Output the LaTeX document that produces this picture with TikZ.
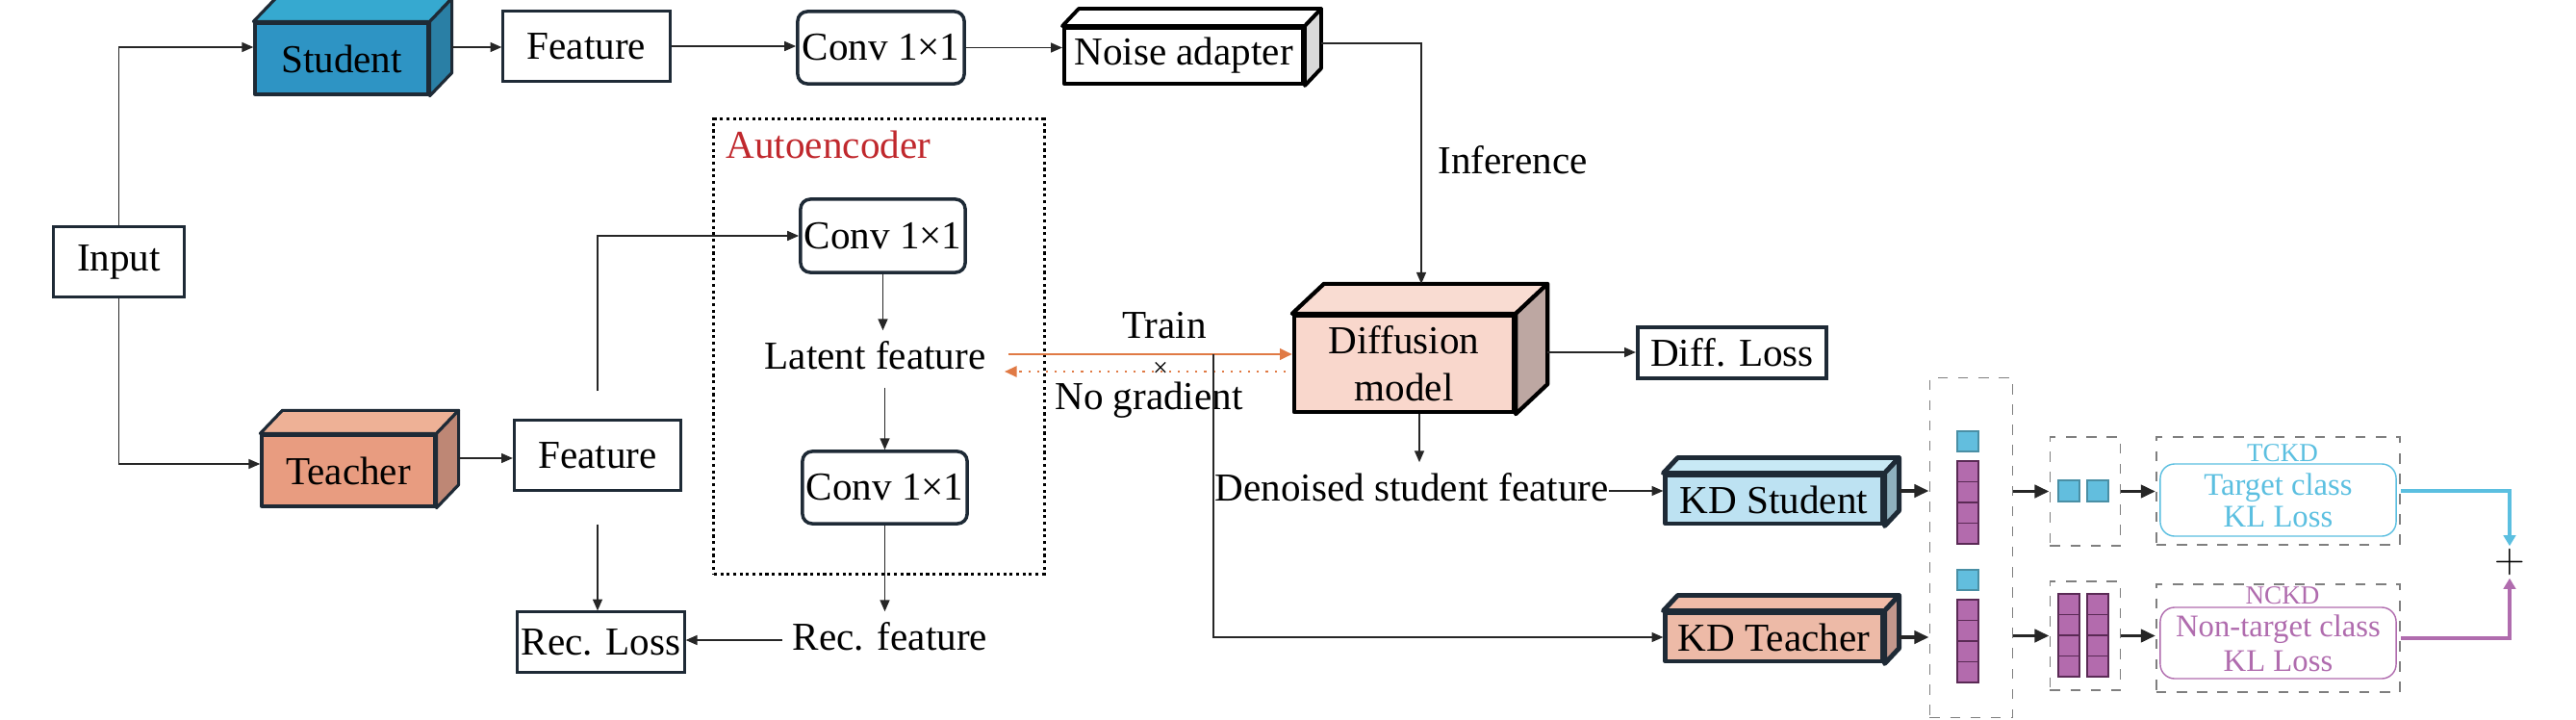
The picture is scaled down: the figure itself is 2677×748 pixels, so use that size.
\documentclass[tikz,border=0pt]{standalone}
\usepackage{fontspec}
\setmainfont{Liberation Serif}
\usetikzlibrary{arrows.meta,calc}
\definecolor{edge}{RGB}{30,42,54}
\definecolor{stufront}{RGB}{46,148,196}
\definecolor{stutop}{RGB}{54,169,208}
\definecolor{stuside}{RGB}{42,127,165}
\definecolor{teafront}{RGB}{232,156,128}
\definecolor{teatop}{RGB}{238,177,150}
\definecolor{teaside}{RGB}{190,135,117}
\definecolor{difffront}{RGB}{249,215,204}
\definecolor{difftop}{RGB}{249,220,210}
\definecolor{diffside}{RGB}{189,167,162}
\definecolor{kdsfront}{RGB}{189,226,242}
\definecolor{kdstop}{RGB}{200,233,245}
\definecolor{kdsside}{RGB}{143,176,190}
\definecolor{kdtfront}{RGB}{237,186,167}
\definecolor{kdttop}{RGB}{241,188,168}
\definecolor{kdtside}{RGB}{194,151,140}
\definecolor{noiseside}{RGB}{217,217,217}
\definecolor{aered}{RGB}{192,40,45}
\definecolor{orng}{RGB}{224,122,69}
\definecolor{cellblue}{RGB}{98,190,222}
\definecolor{cellbluedge}{RGB}{74,143,165}
\definecolor{cellpurple}{RGB}{179,107,173}
\definecolor{celledge}{RGB}{90,42,85}
\definecolor{tblue}{RGB}{91,191,224}
\definecolor{npurple}{RGB}{176,108,174}
\definecolor{boxgray}{RGB}{127,127,127}

\newcommand{\cubeside}[6][]{%
  \filldraw[#1,fill=#5] (#2.north west) -- ++(#3,-#4) -- ([shift={(#3,-#4)}]#2.north east) -- (#2.north east) -- cycle;
  \filldraw[#1,fill=#6] (#2.north east) -- ([shift={(#3,-#4)}]#2.north east) -- ([shift={(#3,-#4)}]#2.south east) -- (#2.south east) -- cycle;}

\begin{document}
\begin{tikzpicture}[x=0.01cm, y=-0.01cm, font=\fontsize{11.7}{14}\selectfont,
  plainbox/.style={draw=edge, line width=0.85pt, inner sep=0, minimum width=1.73cm, minimum height=0.72cm},
  convbox/.style={plainbox, rounded corners=0.1cm, minimum height=0.75cm, line width=1pt},
  cube/.style={draw=edge, line width=0.9pt, inner sep=0, line join=round},
  lbl/.style={inner sep=0.1cm, text height=0.29cm, text depth=0.09cm},
  arr/.style={-{Triangle[length=3.4pt,width=2.8pt]}, line width=0.55pt, draw=black!85},
  bigarr/.style={-{Triangle[length=4.3pt,width=3.7pt]}, line width=1.1pt, draw=black!85},
  trainarr/.style={-{Triangle[length=3.6pt,width=3.2pt]}, line width=0.8pt, draw=orng},
  gradarr/.style={-{Triangle[length=3.6pt,width=3.2pt]}, line width=0.6pt, dotted, draw=orng},
  tarr/.style={-{Triangle[length=3.2pt,width=3.6pt]}, line width=0.9pt, draw=tblue},
  narr/.style={-{Triangle[length=3.2pt,width=3.6pt]}, line width=0.9pt, draw=npurple},
  dbox/.style={draw=boxgray, dashed, line width=0.5pt, inner sep=0},
  cellb/.style={fill=cellblue, draw=cellbluedge, line width=0.4pt},
  cellp/.style={fill=cellpurple, draw=celledge, line width=0.4pt}]
  \useasboundingbox (0,0) rectangle (2677,748);

  \node[plainbox, minimum width=1.35cm] (input) at (123.5,272) {Input};
  \node[cube, fill=stufront, minimum width=1.80cm, minimum height=0.74cm] (student) at (355,61) {Student};
  \cubeside[cube]{student}{23}{24}{stutop}{stuside}
  \node[plainbox] (feat1) at (609.5,48) {Feature};
  \node[convbox] (conv1) at (915.5,49.5) {Conv 1×1};
  \node[cube, draw=black, line width=1.1pt, fill=white, minimum width=2.48cm, minimum height=0.58cm] (noise) at (1230,58) {Noise adapter};
  \cubeside[cube, draw=black, line width=1.1pt]{noise}{17}{18}{white}{noiseside}
  \node[cube, fill=teafront, minimum width=1.80cm, minimum height=0.74cm] (teacher) at (362,489) {Teacher};
  \cubeside[cube]{teacher}{23}{24}{teatop}{teaside}
  \node[plainbox] (feat2) at (621,473) {Feature};
  \node[plainbox, minimum height=0.62cm] (recloss) at (624.5,667) {Rec. Loss};

  \node[draw=black, densely dotted, line width=0.9pt, inner sep=0, minimum width=3.43cm, minimum height=4.72cm] (ae) at (913.5,360) {};
  \node[anchor=west, inner sep=0, text=aered] (aename) at (754,150) {Autoencoder};
  \node[convbox, minimum width=1.71cm, minimum height=0.76cm] (conv2) at (917.5,245) {Conv 1×1};
  \node[lbl] (latent) at (909.5,373) {Latent feature};
  \node[convbox, minimum width=1.71cm] (conv3) at (919.5,506.5) {Conv 1×1};
  \node[lbl] (recfeat) at (925,665) {Rec. feature};

  \node[cube, draw=black, line width=1.2pt, fill=difffront, minimum width=2.28cm, minimum height=1.0cm, align=center] (diff) at (1459,378) {Diffusion\\model};
  \cubeside[cube, draw=black, line width=1.2pt]{diff}{33}{31}{difftop}{diffside}
  \node[plainbox, line width=1.1pt, minimum width=1.96cm, minimum height=0.53cm] (diffloss) at (1800,366.5) {Diff. Loss};
  \node[lbl, inner xsep=0] (denoised) at (1467,510) {Denoised student feature};
  \node[cube, line width=1.4pt, fill=kdsfront, minimum width=2.25cm, minimum height=0.5cm] (kds) at (1843.5,519) {KD Student};
  \cubeside[cube, line width=1.4pt]{kds}{15}{16}{kdstop}{kdsside}
  \node[cube, line width=1.4pt, fill=kdtfront, minimum width=2.25cm, minimum height=0.5cm] (kdt) at (1843.5,662) {KD Teacher};
  \cubeside[cube, line width=1.4pt]{kdt}{15}{16}{kdttop}{kdtside}

  \node[lbl] (inference) at (1572,170) {Inference};
  \node[lbl] (train) at (1210,341) {Train};
  \node[lbl] (nograd) at (1194,415) {No gradient};
  \node[inner sep=0, font=\fontsize{8}{9}\selectfont] (cross) at (1206,384) {×};

  \node[dbox, minimum width=0.86cm, minimum height=3.53cm] (logits) at (2048.5,569) {};
  \foreach \y in {448,592}{
    \filldraw[cellb] (2034,\y) rectangle ++(22,21);
    \foreach \i in {0,...,3}
      \filldraw[cellp] (2034,\y+31+21.5*\i) rectangle ++(22,21.5);
  }
  \node[dbox, minimum width=0.73cm, minimum height=1.13cm] (tsel) at (2167,510.5) {};
  \foreach \x in {2139,2169}
    \filldraw[cellb] (\x,499) rectangle ++(22,22);
  \node[dbox, minimum width=0.73cm, minimum height=1.13cm] (nsel) at (2167,660.5) {};
  \foreach \x in {2139,2169}
    \foreach \i in {0,...,3}
      \filldraw[cellp] (\x,617+21.5*\i) rectangle ++(22,21.5);

  \node[dbox, minimum width=2.53cm, minimum height=1.12cm] (tckd) at (2367.5,510) {};
  \node[inner sep=0, text=tblue, font=\fontsize{7.7}{9}\selectfont] (tname) at (2372,471) {TCKD};
  \node[draw=tblue, line width=0.4pt, rounded corners=0.15cm, inner sep=0, minimum width=2.45cm, minimum height=0.75cm, align=center, text=tblue, font=\fontsize{9.3}{9.3}\selectfont] (tloss) at (2367.5,519.5) {Target class\\KL Loss};
  \node[dbox, minimum width=2.53cm, minimum height=1.12cm] (nckd) at (2367.5,663) {};
  \node[inner sep=0, text=npurple, font=\fontsize{7.7}{9}\selectfont] (nname) at (2372,619) {NCKD};
  \node[draw=npurple, line width=0.4pt, rounded corners=0.15cm, inner sep=0, minimum width=2.45cm, minimum height=0.74cm, align=center, text=npurple, font=\fontsize{9.3}{10.2}\selectfont] (nloss) at (2367.5,668) {Non-target class\\KL Loss};
  \node[inner sep=0, minimum size=0.32cm] (plus) at (2608,584) {$+$};

  \draw[arr] (input.north) |- ([yshift=0.12cm]student.west);
  \draw[arr] ([xshift=0.23cm,yshift=0.12cm]student.east) coordinate (s1) -- (s1 -| feat1.west);
  \draw[arr] (feat1.east) -- (feat1.east -| conv1.west);
  \draw[arr] (conv1.east) -- (conv1.east -| noise.west);
  \draw[arr] ([shift={(17,-13)}]noise.east) -| ([shift={(18,-31)}]diff.north);
  \draw[arr] (input.south) |- ([yshift=0.07cm]teacher.west);
  \draw[arr] ([xshift=0.23cm,yshift=0.13cm]teacher.east) coordinate (t1) -- (t1 -| feat2.west);
  \draw[arr, shorten <=0.29cm] (feat2.north) |- (conv2.west);
  \draw[arr, shorten <=0.34cm] (feat2.south) -- (feat2.south |- recloss.north);
  \draw[arr] (conv2.south) -- (conv2.south |- latent.north);
  \draw[arr] (conv3.north |- latent.south) -- (conv3.north);
  \draw[arr] (conv3.south) -- (conv3.south |- recfeat.north);
  \draw[arr] (recfeat.west) -- (recfeat.west -| recloss.east);

  \coordinate (din) at ([yshift=0.1cm]diff.west);
  \coordinate (dout) at ([yshift=-0.08cm]diff.west);
  \draw[trainarr, shorten <=0.13cm] (latent.east |- din) -- (din);
  \draw[gradarr, shorten <=0.07cm, shorten >=0.09cm] (dout) -- (latent.east |- dout);
  \coordinate (split) at (1261,368);
  \draw[arr] (split) |- (kdt.west);
  \draw[arr] ([xshift=0.33cm,yshift=0.12cm]diff.east) coordinate (d1) -- (d1 -| diffloss.west);
  \draw[arr] ([xshift=0.16cm]diff.south) coordinate (d2) -- (d2 |- denoised.north);
  \draw[arr] (denoised.east) -- (denoised.east -| kds.west);

  \draw[bigarr] ([shift={(15,-9)}]kds.east) coordinate (k1) -- (k1 -| logits.west);
  \draw[bigarr] ([xshift=0.15cm]kdt.east) coordinate (k2) -- (k2 -| logits.west);
  \draw[bigarr] (logits.east |- tsel.west) -- (tsel.west);
  \draw[bigarr] (logits.east |- nsel.west) -- (nsel.west);
  \draw[bigarr] (tsel.east) -- (tsel.east -| tckd.west);
  \draw[bigarr] (nsel.east) -- (nsel.east -| nckd.west);
  \draw[tarr] (tckd.east) -| (plus.north);
  \draw[narr] (nckd.east) -| (plus.south);
\end{tikzpicture}
\end{document}
